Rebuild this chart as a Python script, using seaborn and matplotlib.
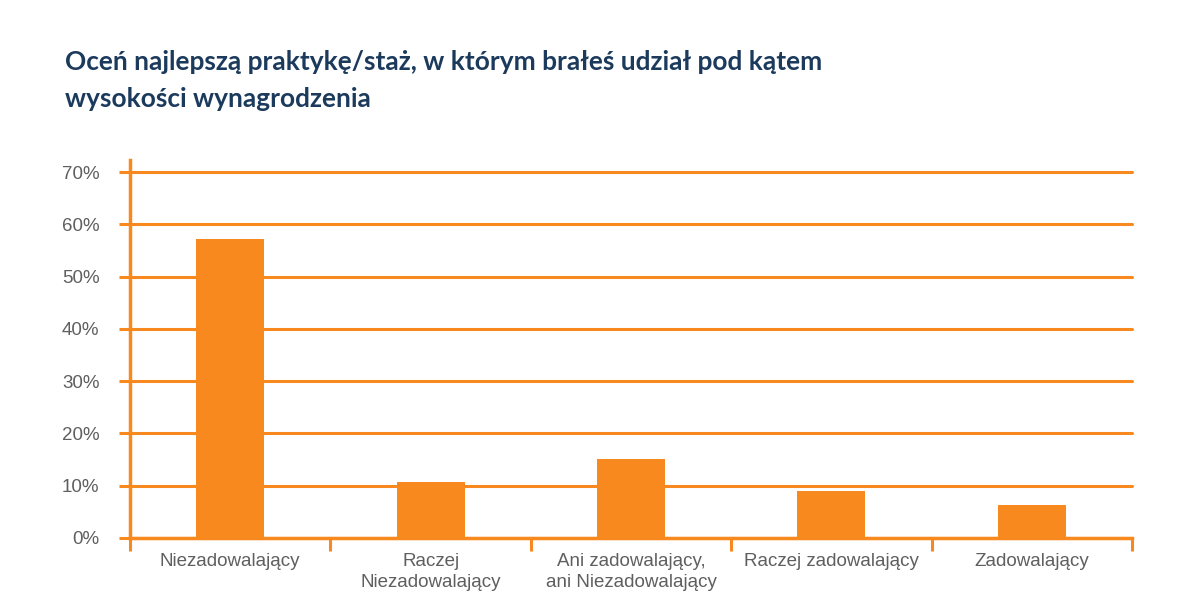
import matplotlib
matplotlib.use('Agg')
import matplotlib.pyplot as plt
import pandas as pd
import seaborn as sns
from matplotlib.ticker import FixedLocator

ORANGE = '#F7891F'
TEXT_GRAY = '#5F5F5F'
TITLE_BLUE = '#1B3A5C'

categories = [
    'Niezadowalający',
    'Raczej\nNiezadowalający',
    'Ani zadowalający,\nani Niezadowalający',
    'Raczej zadowalający',
    'Zadowalający',
]
shares = [57.1, 10.8, 15.2, 8.9, 6.4]
y_ticks = [0, 10, 20, 30, 40, 50, 60, 70]
y_tick_labels = [f'{v}%' for v in y_ticks]

title = 'Oceń najlepszą praktykę/staż, w którym brałeś udział pod kątem\nwysokości wynagrodzenia'

df = pd.DataFrame({'category': categories, 'share': shares})

sns.set_theme(style='white')
plt.rcParams['font.family'] = ['Liberation Sans', 'DejaVu Sans']

fig = plt.figure(figsize=(12, 6.16), dpi=100)
ax = fig.add_axes([130 / 1200, 1 - 538 / 616, 1002 / 1200, (538 - 160) / 616])

sns.barplot(data=df, x='category', y='share', color=ORANGE, saturation=1,
            width=0.34, linewidth=0, ax=ax, zorder=3)

ax.set_xlim(-0.5, 4.5)
ax.set_ylim(0, 72.3)
ax.set_xlabel('')
ax.set_ylabel('')

# orange grid
for v in y_ticks:
    ax.axhline(v, color=ORANGE, lw=2.2, zorder=1, clip_on=False)

ax.set_yticks(y_ticks)
ax.set_yticklabels(y_tick_labels)
ax.tick_params(axis='y', length=8, width=2.2, color=ORANGE, labelcolor=TEXT_GRAY,
               labelsize=13.5, pad=14, left=True)
ax.tick_params(axis='x', which='major', length=0, labelcolor=TEXT_GRAY,
               labelsize=13.5, pad=11)
ax.xaxis.set_minor_locator(FixedLocator([-0.5, 0.5, 1.5, 2.5, 3.5, 4.5]))
ax.tick_params(axis='x', which='minor', length=9, width=2.2, color=ORANGE,
               bottom=True, direction='out')
for lbl in ax.get_xticklabels():
    lbl.set_linespacing(1.3)

for side in ['top', 'right']:
    ax.spines[side].set_visible(False)
for side in ['left', 'bottom']:
    ax.spines[side].set_color(ORANGE)
    ax.spines[side].set_linewidth(2.5)
ax.spines['bottom'].set_zorder(4)

fig.text(65 / 1200, 1 - 50 / 616, title, ha='left', va='top', fontsize=18.9,
         fontweight='bold', color=TITLE_BLUE, family=['Lato', 'DejaVu Sans'],
         linespacing=1.65)

fig.savefig('out.png', dpi=100, facecolor='white')
